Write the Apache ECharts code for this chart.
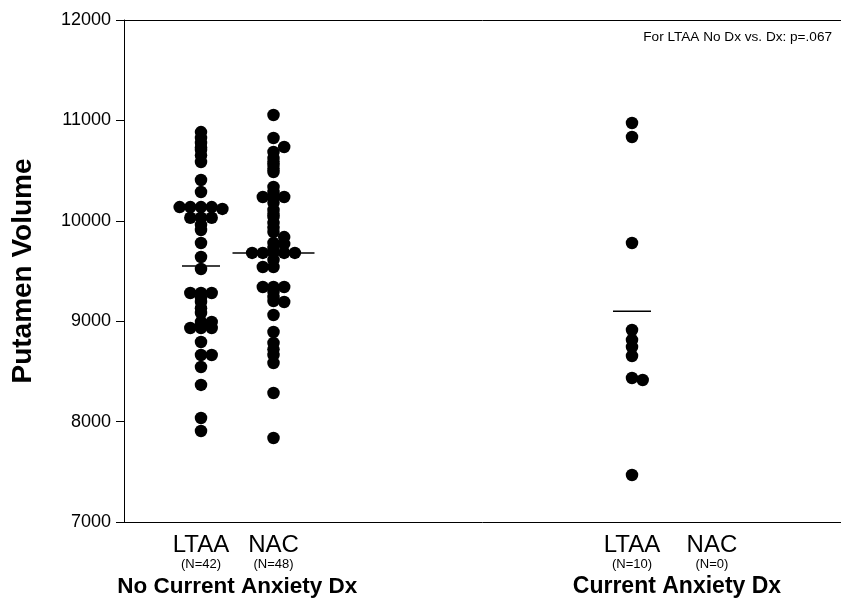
<!DOCTYPE html>
<html><head><meta charset="utf-8">
<script src="https://cdn.jsdelivr.net/npm/echarts@6/dist/echarts.min.js"></script>
<style>html,body{margin:0;padding:0;background:#fff}#c{width:841px;height:605px}</style>
</head><body><div id="c"></div>
<script>
// ---- data ----
const groupNames = ['LTAA', 'NAC', 'LTAA', 'NAC'];
const groupN = ['(N=42)', '(N=48)', '(N=10)', '(N=0)'];
const sectionTitles = ['No Current Anxiety Dx', 'Current Anxiety Dx'];
const noteText = 'For LTAA No Dx vs. Dx: p=.067';
const yAxisTitle = 'Putamen Volume';

// LTAA, no current anxiety Dx (N=42): putamen volume, swarm slot
const ltaaNoDxVals = [10884,10825,10775,10730,10705,10650,10586,10406,10287,
  10137,10137,10137,10137,10118,10030,10030,10030,9958,9908,9779,9639,9520,
  9281,9281,9281,9230,9191,9130,9082,8992,8992,8950,8932,8932,8932,8793,8663,8663,8544,8365,8036,7906];
const ltaaNoDxSlot = [0,0,0,0,0,0,0,0,0,
  -2,-1,0,1,2,-1,0,1,0,0,0,0,0,
  -1,0,1,0,0,0,0,0,1,0,-1,0,1,0,0,1,0,0,0,0];
// NAC, no current anxiety Dx (N=48)
const nacNoDxVals = [11054,10825,10735,10685,10625,10590,10556,10520,10486,10337,10287,
  10237,10237,10237,10180,10108,10070,10038,9978,9930,9888,9838,9779,9770,9730,
  9680,9680,9680,9680,9680,9610,9540,9540,9341,9341,9341,9291,9241,9200,9191,9062,
  8892,8783,8720,8663,8584,8285,7837];
const nacNoDxSlot = [0,0,1,0,0,0,0,0,0,0,0,
  -1,0,1,0,0,0,0,0,0,0,1,0,1,0,
  -2,-1,0,1,2,0,-1,0,-1,0,1,0,0,0,1,0,
  0,0,0,0,0,0,0];
// LTAA, current anxiety Dx (N=10)
const ltaaDxVals = [10974,10835,9779,8912,8813,8743,8653,8434,8414,7468];
const ltaaDxSlot = [0,0,0,0,0,0,0,0,1,0];
// NAC, current anxiety Dx (N=0)
const nacDxVals = [];
const nacDxSlot = [];
// group means (horizontal bars)
const groupMeans = [9550, 9680, 9100, null];

// ---- layout / style ----
const groupX = [1.074, 2.085, 7.085, 8.2];
const slotW = 0.149;
const meanHalfPx = [19, 41, 19, 0];
const FONT = "'Liberation Sans', Arial, Helvetica, sans-serif";

function pts(vals, slots, g) {
  return vals.map((v, i) => [groupX[g] + slots[i] * slotW, v]);
}
const allPts = [].concat(
  pts(ltaaNoDxVals, ltaaNoDxSlot, 0),
  pts(nacNoDxVals, nacNoDxSlot, 1),
  pts(ltaaDxVals, ltaaDxSlot, 2),
  pts(nacDxVals, nacDxSlot, 3)
);
const meanData = groupMeans.map((m, g) => m == null ? null : [groupX[g], m, meanHalfPx[g]]).filter(d => d);

const chart = echarts.init(document.getElementById('c'), null, {renderer: 'canvas'});
const option = {
  animation: false,
  backgroundColor: '#fff',
  grid: {left: 124, right: 0, top: 20, bottom: 83},
  xAxis: [
    {type: 'value', min: 0, max: 10, position: 'bottom',
     axisLine: {show: true, lineStyle: {color: '#000', width: 1}},
     axisTick: {show: false}, axisLabel: {show: false}, splitLine: {show: false}},
    {type: 'value', min: 0, max: 10, position: 'top',
     axisLine: {show: true, lineStyle: {color: '#000', width: 1}},
     axisTick: {show: false}, axisLabel: {show: false}, splitLine: {show: false}}
  ],
  yAxis: {
    type: 'value', min: 7000, max: 12000, interval: 1000,
    axisLine: {show: true, lineStyle: {color: '#000', width: 1}},
    axisTick: {show: true, inside: false, length: 8, lineStyle: {color: '#000', width: 1}},
    axisLabel: {color: '#000', fontSize: 18, fontFamily: FONT, margin: 13, formatter: v => String(v)},
    splitLine: {show: false}
  },
  series: [
    {type: 'scatter', data: allPts, symbol: 'circle', symbolSize: 12.5,
     itemStyle: {color: '#000', opacity: 1}, silent: true},
    {type: 'custom', data: meanData, silent: true,
     renderItem: function (params, api) {
       const c = api.coord([api.value(0), api.value(1)]);
       const hw = api.value(2);
       return {type: 'line', shape: {x1: c[0] - hw, y1: c[1], x2: c[0] + hw, y2: c[1]},
               style: {stroke: '#000', lineWidth: 1.5}};
     }}
  ]
};
chart.setOption(option);

const gx = groupX.map(v => chart.convertToPixel({xAxisIndex: 0}, v));
const graphics = [];
groupNames.forEach((n, g) => {
  graphics.push({type: 'text', x: gx[g], y: 545, style: {text: n, fill: '#000', font: '24px ' + FONT, textAlign: 'center', textVerticalAlign: 'middle'}});
  graphics.push({type: 'text', x: gx[g], y: 564, style: {text: groupN[g], fill: '#000', font: '13px ' + FONT, textAlign: 'center', textVerticalAlign: 'middle'}});
});
graphics.push({type: 'text', x: (gx[0] + gx[1]) / 2, y: 587, style: {text: sectionTitles[0], fill: '#000', font: 'bold 22.5px ' + FONT, textAlign: 'center', textVerticalAlign: 'middle'}});
graphics.push({type: 'text', x: (gx[2] + gx[3]) / 2 + 5, y: 587, style: {text: sectionTitles[1], fill: '#000', font: 'bold 23px ' + FONT, textAlign: 'center', textVerticalAlign: 'middle'}});
graphics.push({type: 'text', x: 832, y: 37, style: {text: noteText, fill: '#000', font: '13.6px ' + FONT, textAlign: 'right', textVerticalAlign: 'middle'}});
graphics.push({type: 'text', x: 23, y: 271, rotation: Math.PI / 2, style: {text: yAxisTitle, fill: '#000', font: 'bold 28px ' + FONT, textAlign: 'center', textVerticalAlign: 'middle'}});
chart.setOption({graphic: graphics});
</script>
</body></html>
